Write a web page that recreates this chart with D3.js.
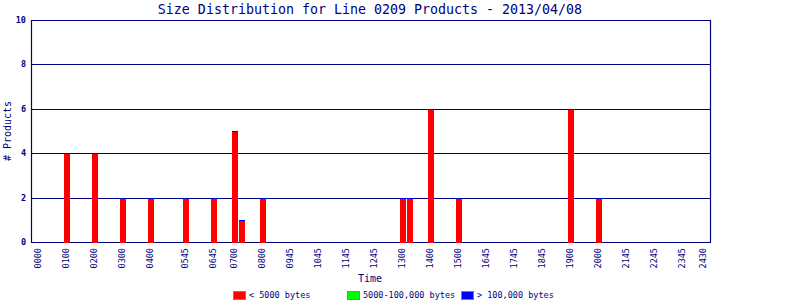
<!DOCTYPE html>
<html><head><meta charset="utf-8">
<script src="https://cdn.jsdelivr.net/npm/d3@7"></script>
<style>
html,body{margin:0;padding:0;background:#fff;}
svg{display:block;}
text{font-family:"DejaVu Sans Mono","Liberation Mono",monospace;fill:#000080;}
</style></head>
<body><svg id="c" width="800" height="300"></svg>
<script>
const title = "Size Distribution for Line 0209 Products - 2013/04/08";
const tickLabels = ["0000","0100","0200","0300","0400","0545","0645","0700","0800","0945","1045","1145","1245","1300","1400","1500","1645","1745","1845","1900","2000","2145","2245","2345","2430"];
const tickPos = [0,1,2,3,4,5.25,6.25,7,8,9,10,11,12,13,14,15,16,17,18,19,20,21,22,23,23.75];
const barPos = [1,2,3,4,5.25,6.25,7,7.25,8,13,13.25,14,15,19,20];
const small = [4,4,2,2,2,2,5,1,2,2,2,6,2,6,2];
const medium = [0,0,0,0,0,0,0,0,0,0,0,0,0,0,0];
const large = [0,0,0,0,0,0,0,0,0,0,0,0,0,0,0];
const yTicks = [0,2,4,6,8,10];
const seriesNames = ["< 5000 bytes","5000-100,000 bytes","> 100,000 bytes"];
const seriesColors = ["#ff0000","#00ff00","#0000ff"];

const navy = "#000080";
const svg = d3.select("#c");
const L = 31, R = 710, T = 20, B = 242;
const x = d3.scaleLinear().domain([-0.25, 24]).range([L, R]);
const y = d3.scaleLinear().domain([0, 10]).range([B, T]);

// title
svg.append("text").attr("x", 370).attr("y", 14).attr("text-anchor","middle")
  .style("font-size","13.3px").text(title);

// gridlines
svg.append("g").selectAll("line").data(yTicks).join("line")
  .attr("x1", L).attr("x2", R)
  .attr("y1", d => Math.round(y(d)) + 0.5).attr("y2", d => Math.round(y(d)) + 0.5)
  .attr("stroke", navy).attr("stroke-width", 1.2);

// axes verticals
svg.append("line").attr("x1", L + 0.5).attr("x2", L + 0.5).attr("y1", T).attr("y2", B + 1)
  .attr("stroke", navy).attr("stroke-width", 1.2);
svg.append("line").attr("x1", R + 0.5).attr("x2", R + 0.5).attr("y1", T).attr("y2", B + 1)
  .attr("stroke", navy).attr("stroke-width", 1.2);

// y tick labels
svg.append("g").selectAll("text").data(yTicks).join("text")
  .attr("x", 26).attr("y", d => y(d) + 3).attr("text-anchor","end")
  .style("font-size","8.5px").style("font-weight","bold").text(d => d);

// y title
svg.append("text").attr("transform", `translate(11,${(T+B)/2}) rotate(-90)`)
  .attr("text-anchor","middle").style("font-size","10px").text("# Products");

// bars (stacked)
const stacks = barPos.map((p, i) => ({p, vals:[small[i], medium[i], large[i]]}));
const bw = 6;
const gb = svg.append("g");
stacks.forEach(s => {
  let base = 0;
  s.vals.forEach((v, k) => {
    if (k < 2 && v > 0) {
      const y0 = Math.round(y(base)), y1 = Math.round(y(base + v));
      gb.append("rect").attr("x", Math.round(x(s.p)) - 2).attr("width", bw)
        .attr("y", y1 + 1).attr("height", y0 - y1)
        .attr("fill", seriesColors[k]);
    }
    base += v;
  });
  // top series (> 100,000 bytes): drawn with a minimum 1px height
  const yt = Math.round(y(base));
  const hL = Math.max(1, Math.round(y(base - s.vals[2]) - y(base)));
  gb.append("rect").attr("x", Math.round(x(s.p)) - 2).attr("width", bw)
    .attr("y", yt).attr("height", hL).attr("fill", seriesColors[2]);
});

// x tick labels
svg.append("g").selectAll("text").data(tickLabels).join("text")
  .attr("transform", (d, i) => `translate(${x(tickPos[i]) + 0.5},248) rotate(-90)`)
  .attr("text-anchor","end").attr("dy","0.33em")
  .style("font-size","8.5px").text(d => d);

// x title
svg.append("text").attr("x", 370).attr("y", 282).attr("text-anchor","middle")
  .style("font-size","10px").text("Time");

// legend
const legX = [233, 347, 461];
const lg = svg.append("g");
seriesNames.forEach((n, i) => {
  lg.append("rect").attr("x", legX[i] + 0.5).attr("y", 291.5).attr("width", 12).attr("height", 8)
    .attr("fill", seriesColors[i]).attr("stroke", "#808080").attr("stroke-width", 1);
  lg.append("text").attr("x", legX[i] + 16).attr("y", 298)
    .style("font-size","8.5px").text(n);
});
</script></body></html>
